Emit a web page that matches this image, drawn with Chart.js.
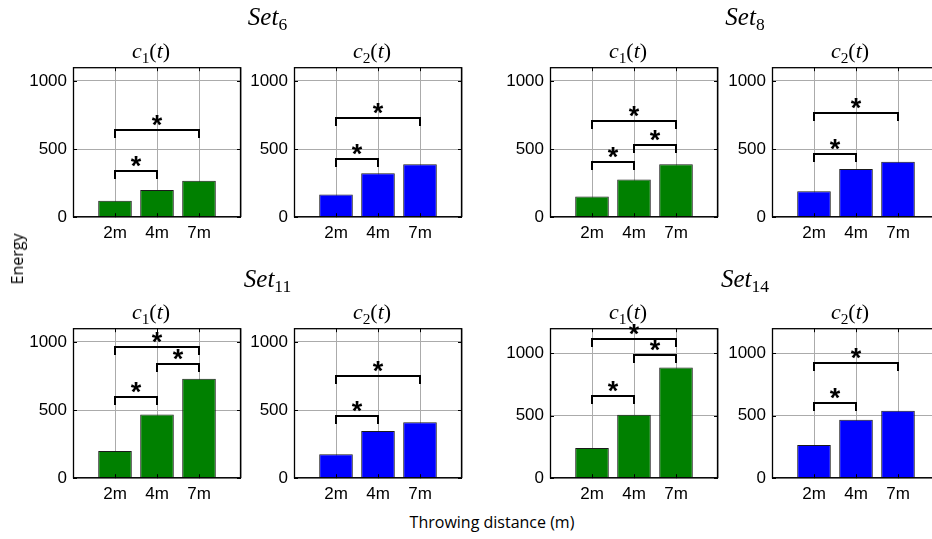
<!DOCTYPE html>
<html><head><meta charset="utf-8">
<script src="https://cdn.jsdelivr.net/npm/chart.js@4"></script>
<style>
html,body{margin:0;padding:0;background:#fff;}
body{width:932px;height:539px;overflow:hidden;position:relative;}
.wrap{position:absolute;}
.t{position:absolute;text-align:center;white-space:nowrap;font-family:'Liberation Serif','Times New Roman',serif;line-height:1;color:#000;}
.t i{font-style:italic}
.t sub{font-size:0.7em;vertical-align:-0.3em;line-height:0;font-style:normal;}
.lab{position:absolute;font-family:'Open Sans',sans-serif;font-size:16px;color:#000;white-space:nowrap;line-height:1;}
</style></head><body>
<script>
// ---------- data ----------
const categories = ['2m', '4m', '7m'];
const yTickValues = [0, 500, 1000];
const setNames = ['6', '8', '11', '14'];
const seriesNames = ['1', '2'];
const yMaxBySet = [1100, 1100, 1100, 1200];

const set6C1 = [120, 200, 268];
const set6C2 = [166, 322, 388];
const set8C1 = [151, 276, 388];
const set8C2 = [190, 354, 407];
const set11C1 = [200, 468, 729];
const set11C2 = [176, 346, 410];
const set14C1 = [241, 508, 885];
const set14C2 = [265, 468, 540];

// significance brackets: [from category, to category, level]
const set6C1Sig = [[0, 1, 339], [0, 2, 637]];
const set6C2Sig = [[0, 1, 427], [0, 2, 724]];
const set8C1Sig = [[0, 1, 407], [1, 2, 529], [0, 2, 707]];
const set8C2Sig = [[0, 1, 466], [0, 2, 766]];
const set11C1Sig = [[0, 1, 598], [1, 2, 837], [0, 2, 959]];
const set11C2Sig = [[0, 1, 454], [0, 2, 746]];
const set14C1Sig = [[0, 1, 655], [1, 2, 984], [0, 2, 1112]];
const set14C2Sig = [[0, 1, 599], [0, 2, 925]];

const valuesBySet = [[set6C1, set6C2], [set8C1, set8C2], [set11C1, set11C2], [set14C1, set14C2]];
const sigBySet = [[set6C1Sig, set6C2Sig], [set8C1Sig, set8C2Sig], [set11C1Sig, set11C2Sig], [set14C1Sig, set14C2Sig]];

// ---------- layout / style ----------
const COLORS = ['#008000', '#0000ff'];
const GRID = '#ababab';
const COL_LEFT = [73, 294, 550, 772];
const ROW_TOP = [67, 328];
const PLOT_W = 168, PLOT_H = 150;
const YW = 52, XH = 30, PADT = 14, PADR = 14;
const SET_BASELINE = [25, 287];
const SUB_BASELINE = [58, 319];

function makePanel(values, sig, color, ymax, left, top) {
  const wrap = document.createElement('div');
  wrap.className = 'wrap';
  const canvas = document.createElement('canvas');
  wrap.appendChild(canvas);
  document.body.appendChild(wrap);
  const W0 = YW + PLOT_W + PADR, H0 = PADT + PLOT_H + XH;
  canvas.width = W0; canvas.height = H0;
  canvas.style.width = W0 + 'px'; canvas.style.height = H0 + 'px';

  const labels = [''].concat(categories, ['']);
  const data = [null].concat(values, [null]);

  const framePlugin = {
    id: 'frame',
    afterDatasetsDraw(chart) {
      const { ctx, chartArea: a, scales: { x, y } } = chart;
      ctx.save();
      // significance brackets
      ctx.strokeStyle = '#000';
      ctx.lineWidth = 2;
      ctx.fillStyle = '#000';
      ctx.font = 'bold 27px "Liberation Sans", Arial, sans-serif';
      ctx.textAlign = 'center';
      ctx.textBaseline = 'alphabetic';
      const m = ctx.measureText('*');
      const asc = m.actualBoundingBoxAscent, desc = m.actualBoundingBoxDescent;
      sig.forEach(([i, j, lvl]) => {
        const x1 = Math.round(x.getPixelForValue(i + 1)), x2 = Math.round(x.getPixelForValue(j + 1));
        const yy = Math.round(y.getPixelForValue(lvl));
        ctx.beginPath();
        ctx.moveTo(x1, yy + 8); ctx.lineTo(x1, yy); ctx.lineTo(x2, yy); ctx.lineTo(x2, yy + 8);
        ctx.stroke();
        const cy = yy - 10;
        ctx.fillText('*', (x1 + x2) / 2, cy + (asc - desc) / 2);
      });
      // frame
      ctx.lineWidth = 1.3;
      ctx.strokeStyle = '#000';
      ctx.strokeRect(a.left + 0.5, a.top + 0.5, a.right - a.left - 1, a.bottom - a.top - 1);
      // inward ticks
      ctx.lineWidth = 1;
      ctx.beginPath();
      for (let k = 1; k <= categories.length; k++) {
        const px = Math.round(x.getPixelForValue(k)) + 0.5;
        ctx.moveTo(px, a.bottom); ctx.lineTo(px, a.bottom - 4);
        ctx.moveTo(px, a.top); ctx.lineTo(px, a.top + 4);
      }
      yTickValues.forEach(v => {
        const py = Math.round(y.getPixelForValue(v)) + 0.5;
        ctx.moveTo(a.left, py); ctx.lineTo(a.left + 4, py);
        ctx.moveTo(a.right, py); ctx.lineTo(a.right - 4, py);
      });
      ctx.stroke();
      ctx.restore();
    }
  };

  const tickFont = { family: 'Liberation Sans', size: 17 };
  const chart = new Chart(canvas, {
    type: 'bar',
    data: { labels, datasets: [{ data, backgroundColor: color, borderColor: '#1a1a1a', borderWidth: 1,
      categoryPercentage: 1, barPercentage: 0.8 }] },
    options: {
      responsive: false, maintainAspectRatio: false, animation: false, devicePixelRatio: 1,
      layout: { padding: { top: PADT, right: PADR, left: 0, bottom: 0 } },
      plugins: { legend: { display: false }, tooltip: { enabled: false }, title: { display: false } },
      scales: {
        x: {
          offset: false,
          grid: { offset: false, color: GRID, lineWidth: 1, drawTicks: false },
          border: { display: false },
          ticks: { font: tickFont, color: '#000', padding: 6, autoSkip: false, maxRotation: 0 },
          afterFit(s) { s.height = XH; }
        },
        y: {
          min: 0, max: ymax,
          grid: { color: GRID, lineWidth: 1, drawTicks: false },
          border: { display: false },
          ticks: { font: tickFont, color: '#000', padding: 6, callback: v => String(v) },
          afterBuildTicks(s) { s.ticks = yTickValues.map(v => ({ value: v })); },
          afterFit(s) { s.width = YW; }
        }
      }
    },
    plugins: [framePlugin]
  });

  let a = chart.chartArea;
  const dw = PLOT_W - (a.right - a.left), dh = PLOT_H - (a.bottom - a.top);
  if (dw !== 0 || dh !== 0) {
    chart.resize(W0 + dw, H0 + dh);
    a = chart.chartArea;
  }
  wrap.style.left = (left - a.left) + 'px';
  wrap.style.top = (top - a.top) + 'px';
}

function addTitle(html, cx, baseline, size) {
  const d = document.createElement('div');
  d.className = 't';
  d.style.fontSize = size + 'px';
  d.style.width = '300px';
  d.style.left = (cx - 150) + 'px';
  d.style.top = (baseline - 0.8375 * size) + 'px';
  d.innerHTML = html;
  document.body.appendChild(d);
}

for (let s = 0; s < 4; s++) {
  const row = Math.floor(s / 2), pair = s % 2;
  for (let c = 0; c < 2; c++) {
    const col = pair * 2 + c;
    makePanel(valuesBySet[s][c], sigBySet[s][c], COLORS[c], yMaxBySet[s], COL_LEFT[col], ROW_TOP[row]);
    addTitle('<i>c</i><sub>' + seriesNames[c] + '</sub>(<i>t</i>)', COL_LEFT[col] + PLOT_W / 2 - 6, SUB_BASELINE[row], 22);
  }
  const cx = (COL_LEFT[pair * 2] + COL_LEFT[pair * 2 + 1] + PLOT_W) / 2;
  addTitle('<i>Set</i><sub>' + setNames[s] + '</sub>', cx, SET_BASELINE[row], 25);
}

const yl = document.createElement('div');
yl.className = 'lab';
yl.textContent = 'Energy';
yl.style.left = '17px'; yl.style.top = '259px';
yl.style.transform = 'translate(-50%,-50%) rotate(-90deg)';
document.body.appendChild(yl);

const xl = document.createElement('div');
xl.className = 'lab';
xl.textContent = 'Throwing distance (m)';
xl.style.left = '492px'; xl.style.top = '514px';
xl.style.transform = 'translateX(-50%)';
document.body.appendChild(xl);
</script>
</body></html>
